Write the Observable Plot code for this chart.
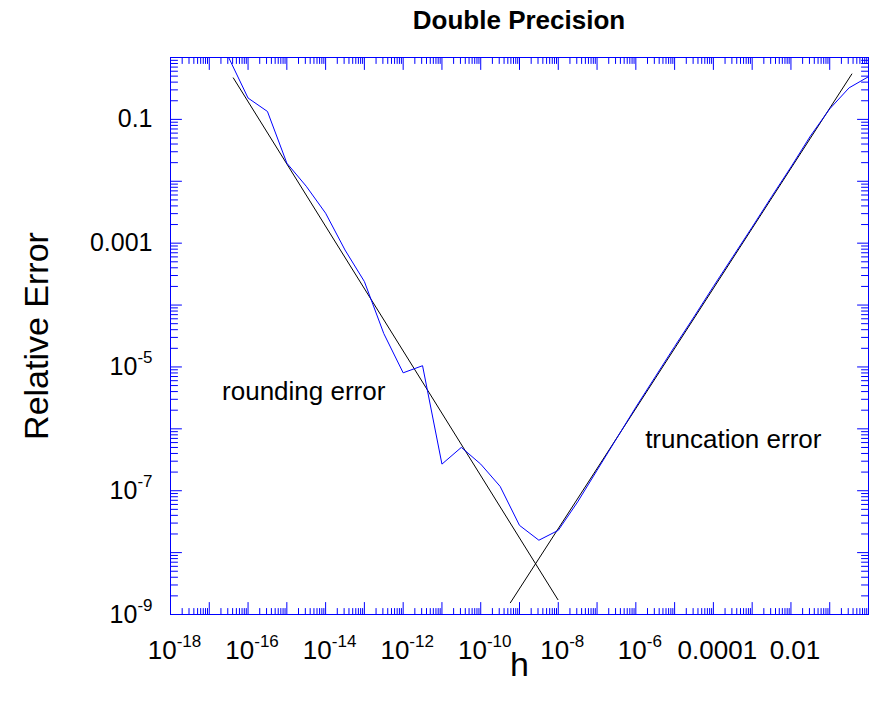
<!DOCTYPE html>
<html><head><meta charset="utf-8">
<script src="https://cdn.jsdelivr.net/npm/d3@7"></script>
<script src="https://cdn.jsdelivr.net/npm/@observablehq/plot@0.6"></script>
<style>
body{margin:0;background:#fff;font-family:"Liberation Sans",Arial,sans-serif;}
#title{position:relative;height:40px;width:877px;}
#title span{position:absolute;left:519px;top:0;transform:translateX(-50%);font-weight:bold;font-size:26px;line-height:40px;white-space:nowrap;color:#000;}
#chart{width:877px;height:669px;}
</style></head><body>
<div id="title"><span>Double Precision</span></div>
<div id="chart"></div>
<script>
// Computed relative error (blue): log10(h), log10(error)
const measuredLogH = [-16.5, -16, -15.5, -15, -14.5, -14, -13.5, -13, -12.5, -12, -11.5, -11, -10.5, -10, -9.5, -9, -8.5, -8,
  -7.5, -7, -6.5, -6, -5.5, -5, -4.5, -4, -3.5, -3, -2.5, -2, -1.5, -1, -0.5, 0];
const measuredLogErr = [0.0, -0.655, -0.872, -1.707, -2.08, -2.516, -3.11, -3.62, -4.46, -5.095, -4.98, -6.57, -6.30, -6.57, -6.93, -7.56, -7.80, -7.64,
  -7.18, -6.67, -6.16, -5.65, -5.16, -4.67, -4.19, -3.70, -3.22, -2.74, -2.25, -1.77, -1.27, -0.83, -0.49, -0.31];

// Reference lines (black): rounding error and truncation error
const roundingLogH = [-16.38, -8.01];
const roundingLogErr = [-0.33, -8.76];
const truncationLogH = [-9.235, -0.43];
const truncationLogErr = [-8.81, -0.267];

// Annotations
const noteTexts = ["rounding error", "truncation error"];
const noteLogH = [-16.67, -5.76];
const noteLogErr = [-5.40, -6.18];

// Tick labels
const xLabelValues = [1e-18, 1e-16, 1e-14, 1e-12, 1e-10, 1e-8, 1e-6, 1e-4, 1e-2];
const xLabelTexts = ["10^-18", "10^-16", "10^-14", "10^-12", "10^-10", "10^-8", "10^-6", "0.0001", "0.01"];
const yLabelValues = [1e-1, 1e-3, 1e-5, 1e-7, 1e-9];
const yLabelTexts = ["0.1", "0.001", "10^-5", "10^-7", "10^-9"];

// Axis domains
const xDomain = [1e-18, 1];
const yDomain = [1e-9, 1];

const measured = measuredLogH.map((lh, i) => ({h: 10 ** lh, err: 10 ** measuredLogErr[i]}));
const rounding = roundingLogH.map((lh, i) => ({h: 10 ** lh, err: 10 ** roundingLogErr[i]}));
const truncation = truncationLogH.map((lh, i) => ({h: 10 ** lh, err: 10 ** truncationLogErr[i]}));
const notes = noteTexts.map((t, i) => ({label: t, h: 10 ** noteLogH[i], err: 10 ** noteLogErr[i]}));

function decadeTicks(lo, hi) {
  const major = [], minor = [];
  for (let k = lo; k <= hi; k++) {
    major.push(+("1e" + k));
    if (k < hi) for (let m = 2; m <= 9; m++) minor.push(+(m + "e" + k));
  }
  return {major, minor};
}
const xt = decadeTicks(-18, 0);
const yt = decadeTicks(-9, 0);

const tickShape = {draw(ctx, l) { ctx.moveTo(0, 0); ctx.lineTo(0, -l); }};
function innerTicks(values, side, len) {
  const rotate = {bottom: 0, top: 180, left: 90, right: -90}[side];
  const ch = (side === "bottom" || side === "top") ? {x: d => d} : {y: d => d};
  return Plot.vector(values, {...ch, frameAnchor: side, length: len, rotate, anchor: "start",
    shape: tickShape, stroke: "blue", strokeWidth: 1});
}

const xMap = new Map(xLabelValues.map((v, i) => [v, xLabelTexts[i]]));
const yMap = new Map(yLabelValues.map((v, i) => [v, yLabelTexts[i]]));

const plot = Plot.plot({
  width: 877,
  height: 669,
  marginLeft: 170,
  marginRight: 9,
  marginTop: 17,
  marginBottom: 95,
  style: {fontFamily: "Liberation Sans, Arial, sans-serif", background: "white", color: "black"},
  x: {type: "log", domain: xDomain},
  y: {type: "log", domain: yDomain},
  marks: [
    Plot.frame({stroke: "blue"}),
    innerTicks(xt.major, "bottom", 12), innerTicks(xt.minor, "bottom", 6),
    innerTicks(xt.major, "top", 12), innerTicks(xt.minor, "top", 6),
    innerTicks(yt.major, "left", 11), innerTicks(yt.minor, "left", 7),
    innerTicks(yt.major, "right", 11), innerTicks(yt.minor, "right", 7),
    Plot.axisX(xLabelValues, {anchor: "bottom", tickSize: 0, tickPadding: 26, fontSize: 26, dx: 4,
      tickFormat: d => xMap.get(d), label: null, fill: "black"}),
    Plot.axisY(yLabelValues, {anchor: "left", tickSize: 0, tickPadding: 18, fontSize: 25,
      tickFormat: d => yMap.get(d), label: null, fill: "black"}),
    Plot.line(rounding, {x: "h", y: "err", stroke: "black", strokeWidth: 1}),
    Plot.line(truncation, {x: "h", y: "err", stroke: "black", strokeWidth: 1}),
    Plot.line(measured, {x: "h", y: "err", stroke: "blue", strokeWidth: 1}),
    Plot.text(notes, {x: "h", y: "err", text: "label", textAnchor: "start", fontSize: 26, fill: "black"}),
    Plot.text(["h"], {frameAnchor: "bottom", dy: 51, fontSize: 34, fill: "black",
      textAnchor: "middle", lineAnchor: "middle"}),
    Plot.text(["Relative Error"], {frameAnchor: "left", dx: -133, rotate: -90, fontSize: 34, fill: "black",
      textAnchor: "middle", lineAnchor: "middle"})
  ]
});

plot.querySelectorAll("text").forEach(t => {
  const s = t.textContent;
  if (!s.includes("^")) return;
  const [base, exp] = s.split("^");
  while (t.firstChild) t.removeChild(t.firstChild);
  t.appendChild(document.createTextNode(base));
  const ts = document.createElementNS("http://www.w3.org/2000/svg", "tspan");
  ts.setAttribute("dy", "-12");
  ts.setAttribute("font-size", "17");
  ts.textContent = exp;
  t.appendChild(ts);
});

document.getElementById("chart").appendChild(plot);
</script>
</body></html>
